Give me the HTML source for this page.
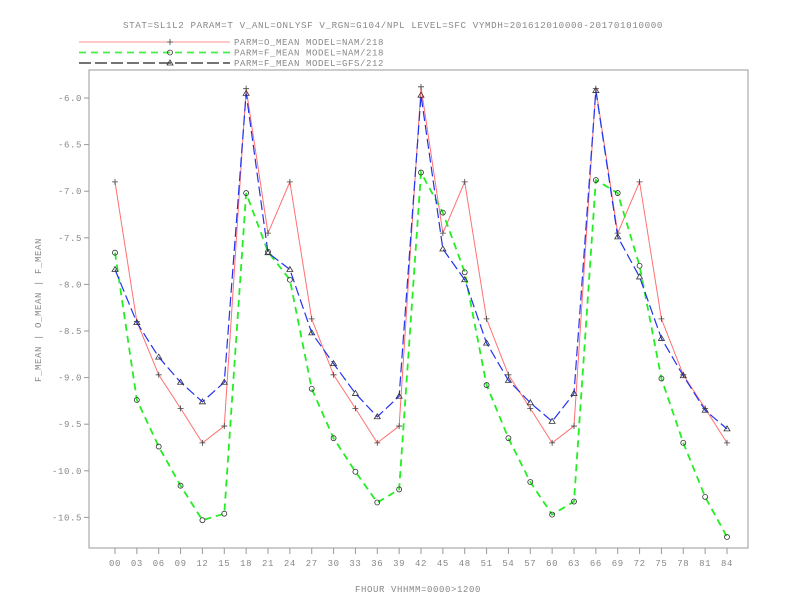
<!DOCTYPE html>
<html><head><meta charset="utf-8"><style>
body{margin:0;background:#fff}
svg{display:block;font-family:"Liberation Mono",monospace}
text{fill:#888;font-size:9px;letter-spacing:0.6px}
</style></head><body>
<svg id="chart" width="792" height="612" xmlns="http://www.w3.org/2000/svg">
<text x="393" y="28" text-anchor="middle" textLength="540" lengthAdjust="spacingAndGlyphs">STAT=SL1L2 PARAM=T V_ANL=ONLYSF V_RGN=G104/NPL LEVEL=SFC VYMDH=201612010000-201701010000</text>
<g id="legend"></g>
<rect x="89" y="70" width="659" height="478" fill="none" stroke="#999" stroke-width="1"/>
<g id="axes"></g>
<g id="series"></g>
<text x="418" y="592" text-anchor="middle">FHOUR VHHMM=0000&gt;1200</text>
<text transform="translate(41,310) rotate(-90)" text-anchor="middle">F_MEAN | O_MEAN | F_MEAN</text>
</svg>
<script>
const categories=["00","03","06","09","12","15","18","21","24","27","30","33","36","39","42","45","48","51","54","57","60","63","66","69","72","75","78","81","84"];
const oMeanNam=[-6.9,-8.4,-8.97,-9.33,-9.7,-9.52,-5.9,-7.45,-6.9,-8.37,-8.97,-9.33,-9.7,-9.52,-5.88,-7.45,-6.9,-8.37,-8.97,-9.33,-9.7,-9.52,-5.9,-7.45,-6.9,-8.37,-8.97,-9.33,-9.7];
const fMeanNam=[-7.66,-9.24,-9.74,-10.16,-10.53,-10.46,-7.02,-7.65,-7.95,-9.12,-9.65,-10.01,-10.34,-10.2,-6.8,-7.23,-7.87,-9.08,-9.65,-10.12,-10.47,-10.33,-6.88,-7.02,-7.8,-9.01,-9.7,-10.28,-10.71];
const fMeanGfs=[-7.84,-8.41,-8.78,-9.05,-9.26,-9.05,-5.95,-7.66,-7.84,-8.52,-8.85,-9.17,-9.42,-9.2,-5.97,-7.62,-7.95,-8.63,-9.03,-9.27,-9.47,-9.17,-5.92,-7.49,-7.92,-8.58,-8.98,-9.35,-9.55];
const yTicks=[-6.0,-6.5,-7.0,-7.5,-8.0,-8.5,-9.0,-9.5,-10.0,-10.5];
const seriesNames=["PARM=O_MEAN MODEL=NAM/218","PARM=F_MEAN MODEL=NAM/218","PARM=F_MEAN MODEL=GFS/212"];
const NS="http://www.w3.org/2000/svg";
const xs=i=>115+i*(727-115)/28;
const ys=v=>98+(-6-v)*93.2;
function mk(t,a,p){const e=document.createElementNS(NS,t);for(const k in a)e.setAttribute(k,a[k]);p.appendChild(e);return e;}
const axes=document.getElementById('axes');
yTicks.forEach(v=>{
  const y=ys(v);
  const l=mk('line',{x1:84,x2:89,y1:y,y2:y,stroke:'#999'},axes);
  
  
  const t=mk('text',{x:82,y:y+3,'text-anchor':'end'},axes);
  
  
  t.textContent=v.toFixed(1);
});
categories.forEach((c,i)=>{
  const x=xs(i);
  const l=mk('line',{x1:x,x2:x,y1:548,y2:554,stroke:'#999'},axes);
  
  
  const t=mk('text',{x:x,y:566,'text-anchor':'middle'},axes);
  
  
  t.textContent=c;
});
const styles=[
 {data:oMeanNam,color:'#ff7070',w:1,dash:'',marker:'plus',name:'o-mean-nam',lcolor:'#ff9090',ldash:''},
 {data:fMeanNam,color:'#22ee22',w:1.8,dash:'7,5',marker:'circle',name:'f-mean-nam',lcolor:'#44ee44',ldash:'7,5'},
 {data:fMeanGfs,color:'#2233ee',w:1.2,dash:'10,4',marker:'tri',name:'f-mean-gfs',lcolor:'#222',ldash:'12,4'}
];
const sg=document.getElementById('series');
function marker(type,x,y,p){
  let e;
  if(type==='plus'){e=mk('path',{d:`M${x-3},${y}h6M${x},${y-3}v6`,stroke:'#444','stroke-width':0.8,fill:'none'},p);}
  else if(type==='circle'){e=mk('circle',{cx:x,cy:y,r:2.5,stroke:'#333','stroke-width':0.8,fill:'none'},p);}
  else {e=mk('path',{d:`M${x},${y-3}L${x+3},${y+2}L${x-3},${y+2}Z`,stroke:'#333','stroke-width':0.8,fill:'none'},p);}
  
  
}
styles.forEach(s=>{
  const pts=s.data.map((v,i)=>xs(i)+','+ys(v)).join(' ');
  const pl=mk('polyline',{points:pts,fill:'none',stroke:s.color,'stroke-width':s.w,'stroke-dasharray':s.dash},sg);
  
  
  s.data.forEach((v,i)=>marker(s.marker,xs(i),ys(v),sg));
});
const lg=document.getElementById('legend');
styles.forEach((s,k)=>{
  const y=42+k*10.5;
  const g=mk('g',{},lg);
  
  
  mk('line',{x1:79,x2:230,y1:y,y2:y,stroke:s.lcolor,'stroke-width':s.w,'stroke-dasharray':s.ldash},g);
  marker(s.marker,170,y,g);
  const t=mk('text',{x:234,y:y+3},g);
  t.textContent=seriesNames[k];
});
</script>
</body></html>
